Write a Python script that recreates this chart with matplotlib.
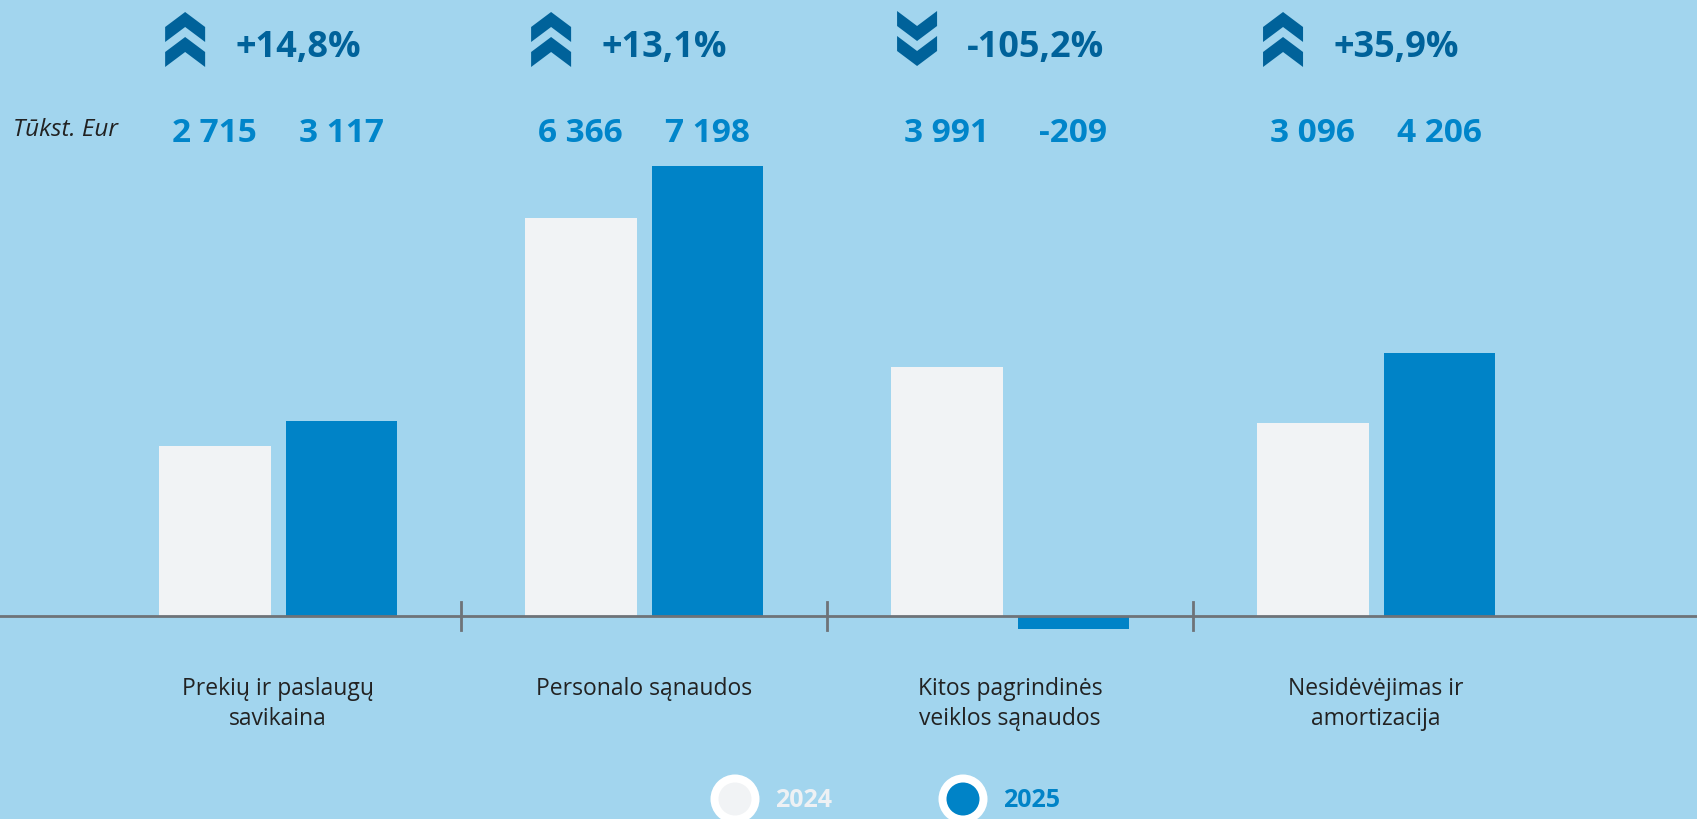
import matplotlib.pyplot as plt
from matplotlib.patches import Polygon, Circle

plt.rcParams['font.family'] = ['Open Sans', 'DejaVu Sans']

categories = ['Prekių ir paslaugų\nsavikaina', 'Personalo sąnaudos',
              'Kitos pagrindinės\nveiklos sąnaudos', 'Nesidėvėjimas ir\namortizacija']
years = ['2024', '2025']
v2024 = [2715, 6366, 3991, 3096]
v2025 = [3117, 7198, -209, 4206]
unit = 'Tūkst. Eur'

BG = '#A2D5EE'
C24 = '#F1F3F5'
C25 = '#0083C7'
DARK = '#00629A'
VAL = '#0085CA'

W, H = 1697, 820
fig = plt.figure(figsize=(W / 100, H / 100), dpi=100, facecolor=BG)
ax = fig.add_axes([0, 0, 1, 1])
ax.set_facecolor(BG)

x = list(range(len(categories)))
bw = 0.305
off = 0.173
ax.bar([i - off for i in x], v2024, bw, color=C24, zorder=2)
ax.bar([i + off for i in x], v2025, bw, color=C25, zorder=2)
ax.set_xlim(-0.76, 3.877)
ax.set_ylim(-3248, 9872)
ax.axhline(0, color='#6E7378', lw=2, zorder=3)
ax.axis('off')

# overlay in pixel coords for labels and decorations
ov = fig.add_axes([0, 0, 1, 1], facecolor='none')
ov.set_xlim(0, W)
ov.set_ylim(H, 0)
ov.axis('off')

def px(xd):
    return ax.transData.transform((xd, 0))[0]

# separators between groups
for i in range(len(categories) - 1):
    xp = px(i + 0.5)
    ov.plot([xp, xp], [603, 631], color='#6E7378', lw=2, zorder=4)

# double chevron, pointing up (y flipped for down)
chev = [(0, -27), (-20, -12), (-20, 3), (0, -12), (20, 3), (20, -12)]
chev2 = [(dx, dy + 25) for dx, dy in chev]

for i, (a, b) in enumerate(zip(v2024, v2025)):
    cx = px(i)
    ch = (b - a) / abs(a) * 100
    s = 1 if ch >= 0 else -1
    ix, iy = cx - 93, 40
    for shape in (chev, chev2):
        pts = [(ix + dx, iy + s * dy) for dx, dy in shape]
        ov.add_patch(Polygon(pts, closed=True, color=DARK, lw=0))
    ov.text(cx - 43, 48, f'{ch:+.1f}%'.replace('.', ','), ha='left', va='center',
            fontsize=26, fontweight='bold', color=DARK)
    for val, xo in ((a, -off), (b, off)):
        ov.text(px(i + xo), 133, f'{val:,}'.replace(',', ' '), ha='center', va='center',
                fontsize=24, fontweight='bold', color=VAL)
    ov.text(cx, 677, categories[i], ha='center', va='top', fontsize=16.5,
            color='#222222', linespacing=1.35)

ov.text(13, 130, unit, ha='left', va='center', fontsize=17.5, style='italic', color='#222222')

# legend
for lx, tx, col, tc, yr in ((735, 775, C24, '#EEF1F4', years[0]),
                            (963, 1003, C25, C25, years[1])):
    ov.add_patch(Circle((lx, 800), 24.5, color='white', lw=0))
    ov.add_patch(Circle((lx, 800), 16.5, color=col, lw=0))
    ov.text(tx, 801, yr, ha='left', va='center', fontsize=18, fontweight='bold', color=tc)

fig.savefig('out.png', dpi=100, facecolor=BG)
